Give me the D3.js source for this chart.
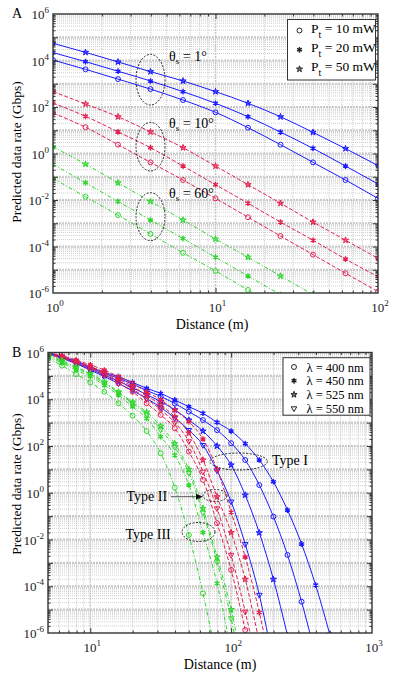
<!DOCTYPE html>
<html>
<head>
<meta charset="utf-8">
<script src="https://cdn.jsdelivr.net/npm/d3@7"></script>
<style>
  body { margin: 0; background: #fff; }
  svg { display: block; font-family: "Liberation Serif", "Times New Roman", serif; font-weight: normal; }
</style>
</head>
<body>
<svg id="fig" width="393" height="683"></svg>
<script>
// values are log10 of the predicted data rate (Gbps)

// ---- panel A : distance 1..100 m
const distA = [1, 1.585, 2.512, 3.981, 6.31, 10, 15.85, 25.12, 39.81, 63.1, 100];
const th1_10mW  = [4.02, 3.62, 3.20, 2.77, 2.30, 1.77, 1.11, 0.38, -0.38, -1.14, -1.93];
const th1_20mW  = [4.34, 3.95, 3.54, 3.12, 2.66, 2.16, 1.58, 0.92, 0.22, -0.54, -1.31];
const th1_50mW  = [4.74, 4.35, 3.94, 3.52, 3.12, 2.66, 2.16, 1.58, 0.91, 0.21, -0.52];
const th10_10mW = [1.74, 1.13, 0.38, -0.38, -1.14, -1.93, -2.74, -3.55, -4.35, -5.15, -5.94];
const th10_20mW = [2.17, 1.60, 0.93, 0.25, -0.54, -1.34, -2.14, -2.95, -3.73, -4.54, -5.30];
const th10_50mW = [2.66, 2.13, 1.58, 0.93, 0.25, -0.54, -1.34, -2.14, -2.95, -3.73, -4.51];
const th60_10mW = [-1.07, -1.86, -2.65, -3.46, -4.27, -5.05, -5.87, -6.67];
const th60_20mW = [-0.46, -1.26, -2.06, -2.86, -3.66, -4.46, -5.27, -6.07];
const th60_50mW = [0.29, -0.46, -1.26, -2.06, -2.86, -3.68, -4.46, -5.27, -6.07];
const powerLabels = ["10", "20", "50"];

// ---- panel B : distance 5..1000 m
const distB = [5.012, 6.31, 7.943, 10, 12.59, 15.85, 19.95, 25.12, 31.62, 39.81, 50.12,
               63.1, 79.43, 100, 125.9, 158.5, 199.5, 251.2, 316.2, 398.1, 501.2, 631];
const t1_400 = [5.98, 5.80, 5.60, 5.35, 5.10, 4.90, 4.65, 4.38, 4.12, 3.82, 3.47, 3.11, 2.68, 2.12, 1.40, 0.33, -1.02, -2.66, -4.66, -6.98];
const t1_450 = [6.00, 5.82, 5.64, 5.39, 5.15, 4.97, 4.72, 4.47, 4.25, 3.97, 3.68, 3.40, 3.01, 2.64, 2.10, 1.40, 0.47, -0.74, -2.19, -3.95, -6.05];
const t1_525 = [5.97, 5.77, 5.55, 5.30, 5.03, 4.78, 4.50, 4.20, 3.90, 3.55, 3.11, 2.64, 2.00, 1.19, -0.10, -1.71, -3.70, -6.10];
const t1_550 = [5.96, 5.75, 5.52, 5.25, 4.97, 4.68, 4.37, 4.03, 3.65, 3.20, 2.68, 2.04, 0.95, -0.38, -2.20, -4.37, -7.30];
const t2_400 = [5.92, 5.75, 5.55, 5.30, 5.04, 4.68, 4.32, 3.83, 3.33, 2.76, 1.76, 0.55, -1.30, -3.30, -5.87, -8.80];
const t2_450 = [6.00, 5.86, 5.68, 5.47, 5.25, 4.97, 4.68, 4.32, 3.97, 3.54, 3.04, 2.30, 1.00, -0.83, -2.75, -5.12, -8.00];
const t2_525 = [5.97, 5.82, 5.63, 5.40, 5.16, 4.87, 4.55, 4.17, 3.75, 3.25, 2.55, 1.40, -0.17, -1.70, -3.70, -6.40];
const t2_550 = [5.95, 5.79, 5.59, 5.35, 5.10, 4.78, 4.44, 4.02, 3.55, 3.00, 2.20, 0.90, -0.67, -2.66, -5.09, -7.80];
const t3_400 = [5.75, 5.44, 5.07, 4.72, 4.32, 3.83, 3.30, 2.64, 1.69, 0.22, -1.81, -4.30, -7.20];
const t3_450 = [5.83, 5.55, 5.25, 4.97, 4.60, 4.18, 3.68, 3.18, 2.40, 1.61, 0.33, -1.70, -3.87, -6.80];
const t3_525 = [5.95, 5.66, 5.38, 5.10, 4.74, 4.32, 3.88, 3.45, 2.85, 2.10, 1.00, -0.67, -2.75, -5.00, -8.00];
const t3_550 = [5.90, 5.60, 5.32, 5.05, 4.68, 4.28, 3.82, 3.35, 2.70, 1.95, 0.85, -0.85, -2.95, -5.37, -8.50];
const lambdaLabels = ["400", "450", "525", "550"];

const yDecades = [-6, -4, -2, 0, 2, 4, 6];

const BLUE = "#1a1aff", RED = "#e3204f", GREEN = "#2ed62e";
const DASH = { solid: null, dash: "4,2", dashdot: "4,2,1,2" };

const svg = d3.select("#fig");

const symbolGen = {
  circle: d3.symbol().type(d3.symbolCircle).size(19),
  ast: d3.symbol().type(d3.symbolAsterisk || d3.symbolCross).size(22),
  star: d3.symbol().type(d3.symbolStar).size(12),
  tri: d3.symbol().type(d3.symbolTriangle).size(13)
};

function addMarker(sel, kind, color) {
  sel.append("path")
    .attr("d", symbolGen[kind]())
    .attr("transform", kind === "tri" ? "rotate(180)" : null)
    .attr("fill", kind === "star" ? color : "none")
    .attr("fill-opacity", kind === "star" ? 0.6 : null)
    .attr("stroke", color)
    .attr("stroke-width", kind === "ast" ? 1.4 : 1);
}

function powLabel(t, e) {
  t.append("tspan").text("10");
  t.append("tspan").attr("dy", -6).attr("font-size", 9).text(e);
}

function panel(o) {
  const x = d3.scaleLog().domain(o.xDomain).range([o.left, o.right]);
  const y = d3.scaleLog().domain([1e-6, 1e6]).range([o.bottom, o.top]);
  const g = svg.append("g");

  g.append("clipPath").attr("id", "clip" + o.id)
    .append("rect")
    .attr("x", o.left).attr("y", o.top)
    .attr("width", o.right - o.left).attr("height", o.bottom - o.top);

  // grid positions
  const majX = [], minX = [], majY = [], minY = [];
  for (let e = -1; e <= 3; e++) {
    for (let m = 1; m < 10; m++) {
      const v = m * Math.pow(10, e);
      if (v <= o.xDomain[0] * 1.001 || v >= o.xDomain[1] * 0.999) continue;
      (m === 1 ? majX : minX).push(v);
    }
  }
  for (let e = -6; e <= 6; e++) {
    for (let m = 1; m < 10; m++) {
      const v = m * Math.pow(10, e);
      if (v <= 1.001e-6 || v >= 0.999e6) continue;
      (m === 1 ? majY : minY).push(v);
    }
  }

  const grid = g.append("g");
  grid.selectAll(".gmx").data(minX).join("line")
    .attr("x1", d => x(d)).attr("x2", d => x(d))
    .attr("y1", o.top).attr("y2", o.bottom)
    .attr("stroke", "#bdbdbd").attr("stroke-width", 0.8).attr("stroke-dasharray", "1,1");
  grid.selectAll(".gmy").data(minY).join("line")
    .attr("x1", o.left).attr("x2", o.right)
    .attr("y1", d => y(d)).attr("y2", d => y(d))
    .attr("stroke", "#c4c4c4").attr("stroke-width", 0.8).attr("stroke-dasharray", "1,1");
  grid.selectAll(".gMx").data(majX).join("line")
    .attr("x1", d => x(d)).attr("x2", d => x(d))
    .attr("y1", o.top).attr("y2", o.bottom)
    .attr("stroke", "#c8c8c8").attr("stroke-width", 1.6).attr("stroke-dasharray", "2,1");
  grid.selectAll(".gMy").data(majY).join("line")
    .attr("x1", o.left).attr("x2", o.right)
    .attr("y1", d => y(d)).attr("y2", d => y(d))
    .attr("stroke", "#c8c8c8").attr("stroke-width", 2.2).attr("stroke-dasharray", "2,1");

  // curves
  const plot = g.append("g").attr("clip-path", `url(#clip${o.id})`);
  const line = d3.line()
    .x((d, i) => x(o.dist[i]))
    .y(d => y(Math.pow(10, d)))
    .curve(d3.curveMonotoneX);

  o.series.forEach(s => {
    plot.append("path")
      .attr("d", line(s.vals))
      .attr("fill", "none")
      .attr("stroke", s.color)
      .attr("stroke-width", 1)
      .attr("stroke-dasharray", DASH[s.dash]);
    s.vals.forEach((v, i) => {
      const m = plot.append("g")
        .attr("transform", `translate(${x(o.dist[i])},${y(Math.pow(10, v))})`);
      addMarker(m, s.sym, s.color);
    });
  });

  // ticks on all four sides (inward)
  const axes = g.append("g").attr("color", "#333");
  const mk = (ax, vals, size, tr) => axes.append("g").attr("transform", tr)
    .call(ax.tickValues(vals).tickSize(-size).tickFormat(""))
    .call(a => a.select(".domain").remove());
  mk(d3.axisLeft(y), majY, 5, `translate(${o.left},0)`);
  mk(d3.axisLeft(y), minY, 2.5, `translate(${o.left},0)`);
  mk(d3.axisRight(y), majY, 5, `translate(${o.right},0)`);
  mk(d3.axisRight(y), minY, 2.5, `translate(${o.right},0)`);
  mk(d3.axisBottom(x), majX, 5, `translate(0,${o.bottom})`);
  mk(d3.axisBottom(x), minX, 2.5, `translate(0,${o.bottom})`);
  mk(d3.axisTop(x), majX, 5, `translate(0,${o.top})`);
  mk(d3.axisTop(x), minX, 2.5, `translate(0,${o.top})`);

  g.append("rect")
    .attr("x", o.left).attr("y", o.top)
    .attr("width", o.right - o.left).attr("height", o.bottom - o.top)
    .attr("fill", "none").attr("stroke", "#333").attr("stroke-width", 1.4);

  // tick labels
  yDecades.forEach(e => {
    const t = g.append("text")
      .attr("x", o.left - 4).attr("y", y(Math.pow(10, e)) + 5)
      .attr("text-anchor", "end").attr("font-size", 13).attr("fill", "#222");
    powLabel(t, String(e));
  });
  o.xLabelExp.forEach(e => {
    const t = g.append("text")
      .attr("x", x(Math.pow(10, e)) + 2).attr("y", o.bottom + 19)
      .attr("text-anchor", "middle").attr("font-size", 13).attr("fill", "#222");
    powLabel(t, String(e));
  });

  // axis titles
  g.append("text")
    .attr("transform", `translate(21,${o.yTitleY}) rotate(-90)`)
    .attr("text-anchor", "middle").attr("font-size", 13.5)
    .text("Predicted data rate (Gbps)");
  g.append("text")
    .attr("x", o.xTitleX).attr("y", o.xTitleY)
    .attr("text-anchor", "middle").attr("font-size", 14)
    .text("Distance (m)");
  g.append("text")
    .attr("x", 12).attr("y", o.top + 4)
    .attr("font-size", 14).text(o.id);

  return { x, y, g };
}

// ---------------- panel A
const A = panel({
  id: "A", left: 53, right: 378, top: 14, bottom: 293,
  xDomain: [1, 100], dist: distA, xLabelExp: [0, 1, 2],
  yTitleY: 152, xTitleX: 212, xTitleY: 329,
  series: [
    { vals: th1_10mW, color: BLUE, dash: "solid", sym: "circle" },
    { vals: th1_20mW, color: BLUE, dash: "solid", sym: "ast" },
    { vals: th1_50mW, color: BLUE, dash: "solid", sym: "star" },
    { vals: th10_10mW, color: RED, dash: "dash", sym: "circle" },
    { vals: th10_20mW, color: RED, dash: "dash", sym: "ast" },
    { vals: th10_50mW, color: RED, dash: "dash", sym: "star" },
    { vals: th60_10mW, color: GREEN, dash: "dashdot", sym: "circle" },
    { vals: th60_20mW, color: GREEN, dash: "dashdot", sym: "ast" },
    { vals: th60_50mW, color: GREEN, dash: "dashdot", sym: "star" }
  ]
});

// angle groups: ellipses and labels
const ellA = [[79.7, 25.3, "1"], [146.7, 24.3, "10"], [216.7, 24, "60"]];
ellA.forEach(([cy, ry, ang]) => {
  A.g.append("ellipse")
    .attr("cx", 150.5).attr("cy", cy).attr("rx", 14.5).attr("ry", ry)
    .attr("fill", "none").attr("stroke", "#222").attr("stroke-width", 1)
    .attr("stroke-dasharray", "2,1.5");
  const t = A.g.append("text").attr("x", 169).attr("y", cy - 18.5).attr("font-size", 14);
  t.append("tspan").text("θ");
  t.append("tspan").attr("font-size", 9).attr("dy", 3).text("s");
  t.append("tspan").attr("dy", -3).text(" = " + ang + "°");
});

// legend A
const legA = A.g.append("g");
legA.append("rect").attr("x", 287.5).attr("y", 19.5).attr("width", 88).attr("height", 60.5)
  .attr("fill", "#fff").attr("stroke", "#333").attr("stroke-width", 1);
["circle", "ast", "star"].forEach((k, i) => {
  const yy = 30.5 + i * 19.3;
  addMarker(legA.append("g").attr("transform", `translate(299.5,${yy})`), k, "#222");
  const t = legA.append("text").attr("x", 311).attr("y", yy + 2).attr("font-size", 13.5);
  t.append("tspan").text("P");
  t.append("tspan").attr("font-size", 10).attr("dy", 5).text("t");
  t.append("tspan").attr("dy", -5).text(" = " + powerLabels[i] + " mW");
});

// ---------------- panel B
const B = panel({
  id: "B", left: 48, right: 372, top: 352.5, bottom: 633,
  xDomain: [5.012, 1000], dist: distB, xLabelExp: [1, 2, 3],
  yTitleY: 484, xTitleX: 220, xTitleY: 669,
  series: [
    { vals: t1_400, color: BLUE, dash: "solid", sym: "circle" },
    { vals: t1_450, color: BLUE, dash: "solid", sym: "ast" },
    { vals: t1_525, color: BLUE, dash: "solid", sym: "star" },
    { vals: t1_550, color: BLUE, dash: "solid", sym: "tri" },
    { vals: t2_400, color: RED, dash: "dash", sym: "circle" },
    { vals: t2_450, color: RED, dash: "dash", sym: "ast" },
    { vals: t2_525, color: RED, dash: "dash", sym: "star" },
    { vals: t2_550, color: RED, dash: "dash", sym: "tri" },
    { vals: t3_400, color: GREEN, dash: "dashdot", sym: "circle" },
    { vals: t3_450, color: GREEN, dash: "dashdot", sym: "ast" },
    { vals: t3_525, color: GREEN, dash: "dashdot", sym: "star" },
    { vals: t3_550, color: GREEN, dash: "dashdot", sym: "tri" }
  ]
});

const dotted = sel => sel.attr("fill", "none").attr("stroke", "#222")
  .attr("stroke-width", 1).attr("stroke-dasharray", "2,1.5");
B.g.append("ellipse").attr("cx", 238.7).attr("cy", 461.5).attr("rx", 28.7).attr("ry", 8.5).call(dotted);
B.g.append("ellipse").attr("cx", 215).attr("cy", 495.5).attr("rx", 12).attr("ry", 6).call(dotted);
B.g.append("ellipse").attr("cx", 198.5).attr("cy", 532).attr("rx", 16.5).attr("ry", 9.5).call(dotted);
B.g.append("text").attr("x", 272).attr("y", 465).attr("font-size", 14).text("Type I");
B.g.append("text").attr("x", 126.5).attr("y", 500.5).attr("font-size", 14).text("Type II");
B.g.append("text").attr("x", 125.5).attr("y", 539).attr("font-size", 14).text("Type III");
B.g.append("line").attr("x1", 171).attr("x2", 197).attr("y1", 496.7).attr("y2", 496.7)
  .attr("stroke", "#333").attr("stroke-width", 0.8);
B.g.append("path").attr("d", "M203,496.7 L196,493.7 L196,499.7 Z").attr("fill", "#111");

// legend B
const legB = B.g.append("g");
legB.append("rect").attr("x", 283).attr("y", 357.7).attr("width", 87).attr("height", 57.5)
  .attr("fill", "#fff").attr("stroke", "#333").attr("stroke-width", 1);
["circle", "ast", "star", "tri"].forEach((k, i) => {
  const yy = 367 + i * 13.8;
  addMarker(legB.append("g").attr("transform", `translate(294,${yy})`), k, "#222");
  legB.append("text").attr("x", 306.5).attr("y", yy + 4.5).attr("font-size", 12.5)
    .text("λ = " + lambdaLabels[i] + " nm");
});
</script>
</body>
</html>
